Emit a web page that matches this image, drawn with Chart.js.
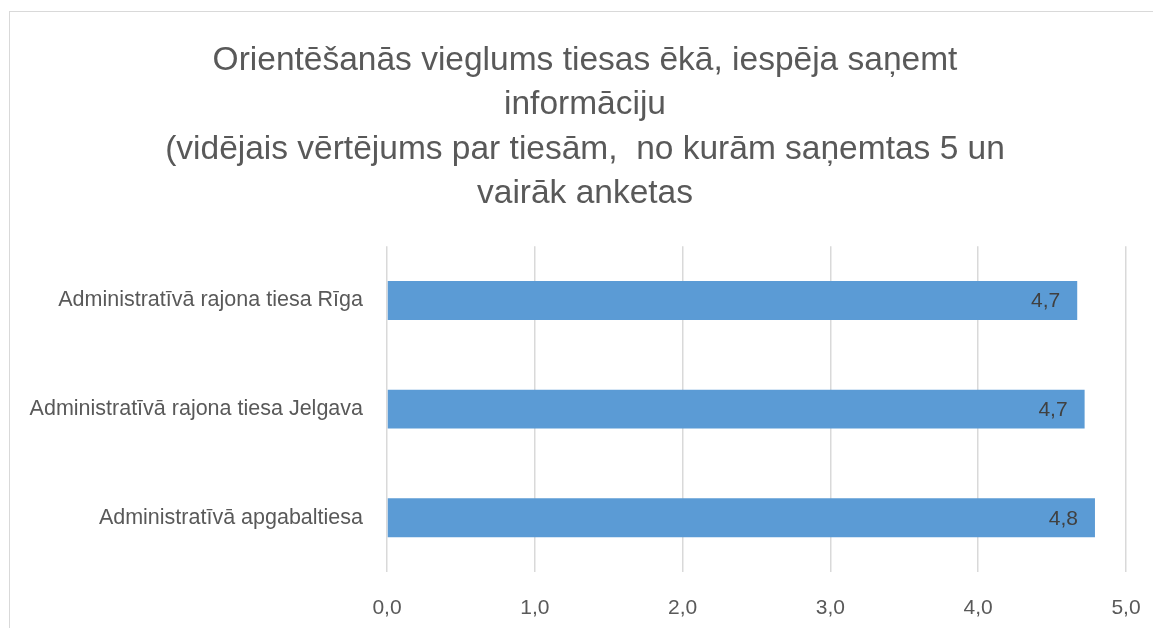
<!DOCTYPE html>
<html>
<head>
<meta charset="utf-8">
<script src="https://cdn.jsdelivr.net/npm/chart.js@4"></script>
<style>
	html, body { margin: 0; padding: 0; background: #fff; overflow: hidden; }
	#wrap { position: relative; width: 1153px; height: 628px; }
	#frame { position: absolute; left: 9px; top: 11px; width: 1200px; height: 700px; border: 1.5px solid #d9d9d9; }
	canvas { position: absolute; left: 0; top: 0; }
</style>
</head>
<body>
<div id="wrap">
	<div id="frame"></div>
	<canvas id="barChart" width="1153" height="628"></canvas>
</div>
<script>
const titleLines = [
	'Orientēšanās vieglums tiesas ēkā, iespēja saņemt',
	'informāciju',
	'(vidējais vērtējums par tiesām,  no kurām saņemtas 5 un',
	'vairāk anketas'
];
const courts = [
	'Administratīvā rajona tiesa Rīga',
	'Administratīvā rajona tiesa Jelgava',
	'Administratīvā apgabaltiesa'
];
const averageScores = [4.67, 4.72, 4.79];
const axisTicks = [0, 1, 2, 3, 4, 5];

const fontFamily = '"Liberation Sans", Arial, sans-serif';

function commaNum(v) {
	return v.toFixed(1).replace('.', ',');
}

// writes the value inside the end of each bar
const barValueLabels = {
	id: 'barValueLabels',
	afterDatasetsDraw(chart) {
		const ctx = chart.ctx;
		const meta = chart.getDatasetMeta(0);
		ctx.save();
		ctx.font = '21px ' + fontFamily;
		ctx.fillStyle = '#404040';
		ctx.textAlign = 'right';
		ctx.textBaseline = 'middle';
		meta.data.forEach(function (bar, i) {
			ctx.fillText(commaNum(averageScores[i]), bar.x - 17, bar.y + 1);
		});
		ctx.restore();
	}
};

// the title in the original sits a little right of the canvas centre
const titleShift = {
	id: 'titleShift',
	afterLayout(chart) {
		chart.titleBlock.left += 12;
		chart.titleBlock.right += 12;
	}
};

const dataCanvasBar = document.getElementById('barChart');
const barChart = new Chart(dataCanvasBar, {
	type: 'bar',
	data: {
		labels: courts,
		datasets: [{
			data: averageScores,
			backgroundColor: '#5B9BD5',
			borderWidth: 0,
			barPercentage: 0.716,
			categoryPercentage: 0.5
		}]
	},
	options: {
		indexAxis: 'y',
		responsive: false,
		animation: false,
		layout: {
			padding: { left: 20, right: 27, top: 0, bottom: 0 }
		},
		plugins: {
			legend: { display: false },
			tooltip: { enabled: false },
			title: {
				display: true,
				text: titleLines,
				color: '#595959',
				font: { family: fontFamily, size: 33.5, weight: 'normal', lineHeight: 1.33 },
				padding: { top: 38, bottom: 30 }
			}
		},
		scales: {
			x: {
				min: 0,
				max: 5,
				afterBuildTicks(axis) {
					axis.ticks = axisTicks.map(v => ({ value: v }));
				},
				afterFit(axis) {
					axis.height = 56;
					axis.paddingLeft = 0;
					axis.paddingRight = 0;
				},
				grid: { color: '#d9d9d9', lineWidth: 1.5, drawTicks: false },
				border: { display: false },
				ticks: {
					color: '#595959',
					font: { family: fontFamily, size: 21 },
					padding: 24,
					callback: v => commaNum(v)
				}
			},
			y: {
				afterFit(axis) {
					axis.width = 367;
				},
				grid: { display: false },
				border: { display: false },
				ticks: {
					color: '#595959',
					font: { family: fontFamily, size: 21.5 },
					padding: 16
				}
			}
		}
	},
	plugins: [barValueLabels, titleShift]
});
</script>
</body>
</html>
